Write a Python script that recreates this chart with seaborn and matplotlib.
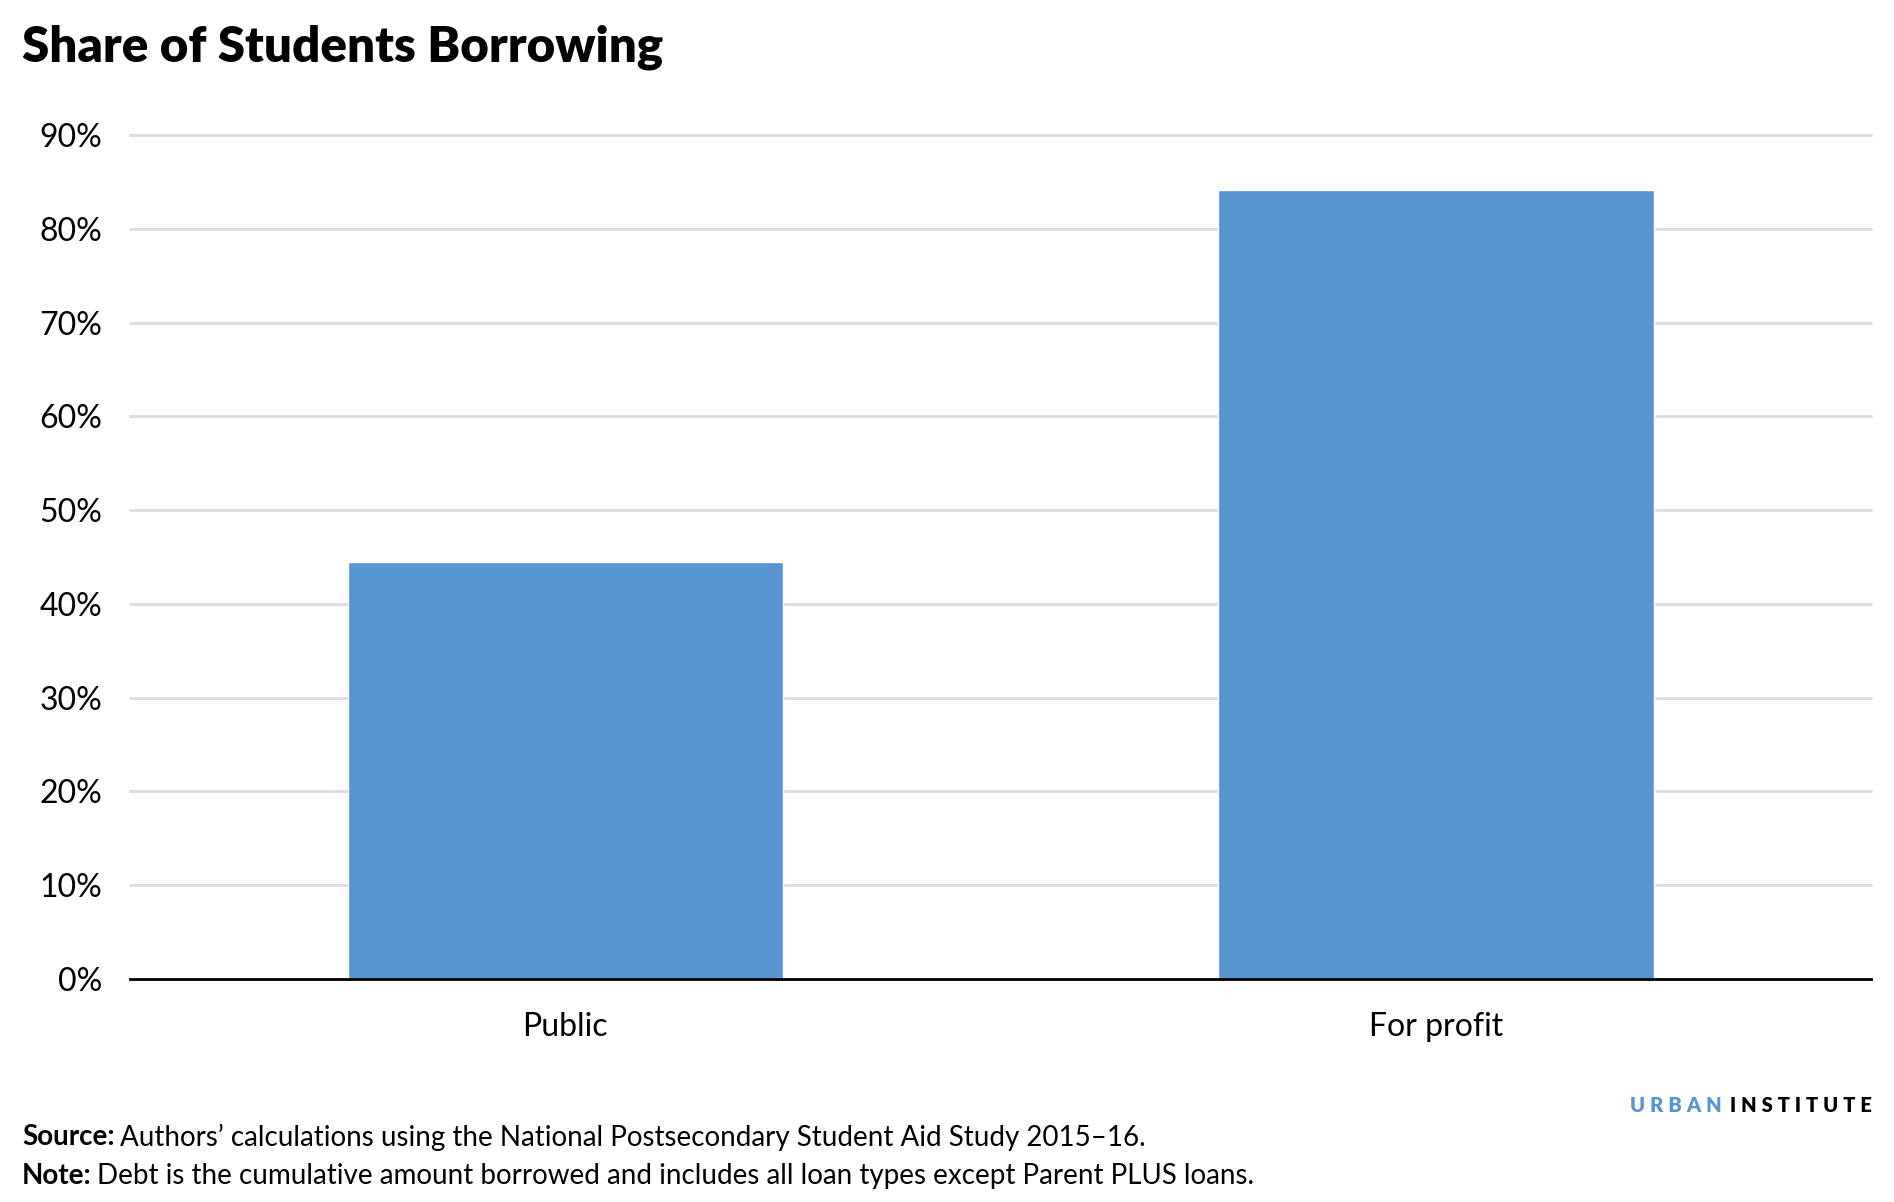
import numpy as np
import pandas as pd
import matplotlib.pyplot as plt
import seaborn as sns
from matplotlib.ticker import PercentFormatter

sectors = ["Public", "For profit"]
share_borrowing = [0.445, 0.841]
y_ticks = [0, 0.1, 0.2, 0.3, 0.4, 0.5, 0.6, 0.7, 0.8, 0.9]

df = pd.DataFrame({"sector": sectors, "share": share_borrowing})

sns.set_style("white")
plt.rcParams['font.family'] = ['Lato', 'DejaVu Sans']
plt.rcParams['text.color'] = 'black'
plt.rcParams['xtick.color'] = 'black'
plt.rcParams['ytick.color'] = 'black'

fig = plt.figure(figsize=(18.94, 12.02), dpi=100)
ax = fig.add_axes([0.0686, 0.1855, 0.9194, 0.7022])

sns.barplot(data=df, x="sector", y="share", color="#5795d1", width=0.5,
            saturation=1, ax=ax, zorder=3)

ax.set_xlim(-0.5, 1.5)
ax.set_ylim(0, 0.9)
ax.set_yticks(y_ticks)
ax.yaxis.set_major_formatter(PercentFormatter(1.0, decimals=0))
ax.grid(axis='y', color='#dedede', linewidth=2.2, zorder=0)
for gl in ax.get_ygridlines():
    gl.set_clip_on(False)
ax.set_axisbelow(True)
ax.set_xlabel("")
ax.set_ylabel("")
for s in ["top", "right", "left"]:
    ax.spines[s].set_visible(False)
ax.spines["bottom"].set_color("black")
ax.spines["bottom"].set_linewidth(2)
ax.spines["bottom"].set_zorder(4)
ax.tick_params(axis='y', length=0, pad=20, labelsize=23)
ax.tick_params(axis='x', length=0, pad=24, labelsize=23)

fig.text(0.0116, 0.980, "Share of Students Borrowing", fontsize=35.5,
         fontweight='heavy', va='top', ha='left')

# footer pieces, laid out after measuring
fig.canvas.draw()
renderer = fig.canvas.get_renderer()
W = fig.bbox.width

sp = "\u2009\u200a\u200a"
inst = fig.text(0.9885, 0.080, sp.join("INSTITUTE"), fontsize=14.5,
                fontweight='heavy', ha='right', va='center', color='black')
bb = inst.get_window_extent(renderer)
fig.text((bb.x0 - 9) / W, 0.080, sp.join("URBAN"), fontsize=14.5,
         fontweight='heavy', ha='right', va='center', color='#5795d1')

footer = [("Source:", "Authors\u2019 calculations using the National Postsecondary Student Aid Study 2015\u201316.", 0.054),
          ("Note:", "Debt is the cumulative amount borrowed and includes all loan types except Parent PLUS loans.", 0.022)]
for label, body, yy in footer:
    t = fig.text(0.0116, yy, label, fontsize=20, fontweight='bold', va='center')
    b = t.get_window_extent(renderer)
    fig.text((b.x1 + 5) / W, yy, body, fontsize=20, va='center')

fig.savefig("out.png", dpi=100)
